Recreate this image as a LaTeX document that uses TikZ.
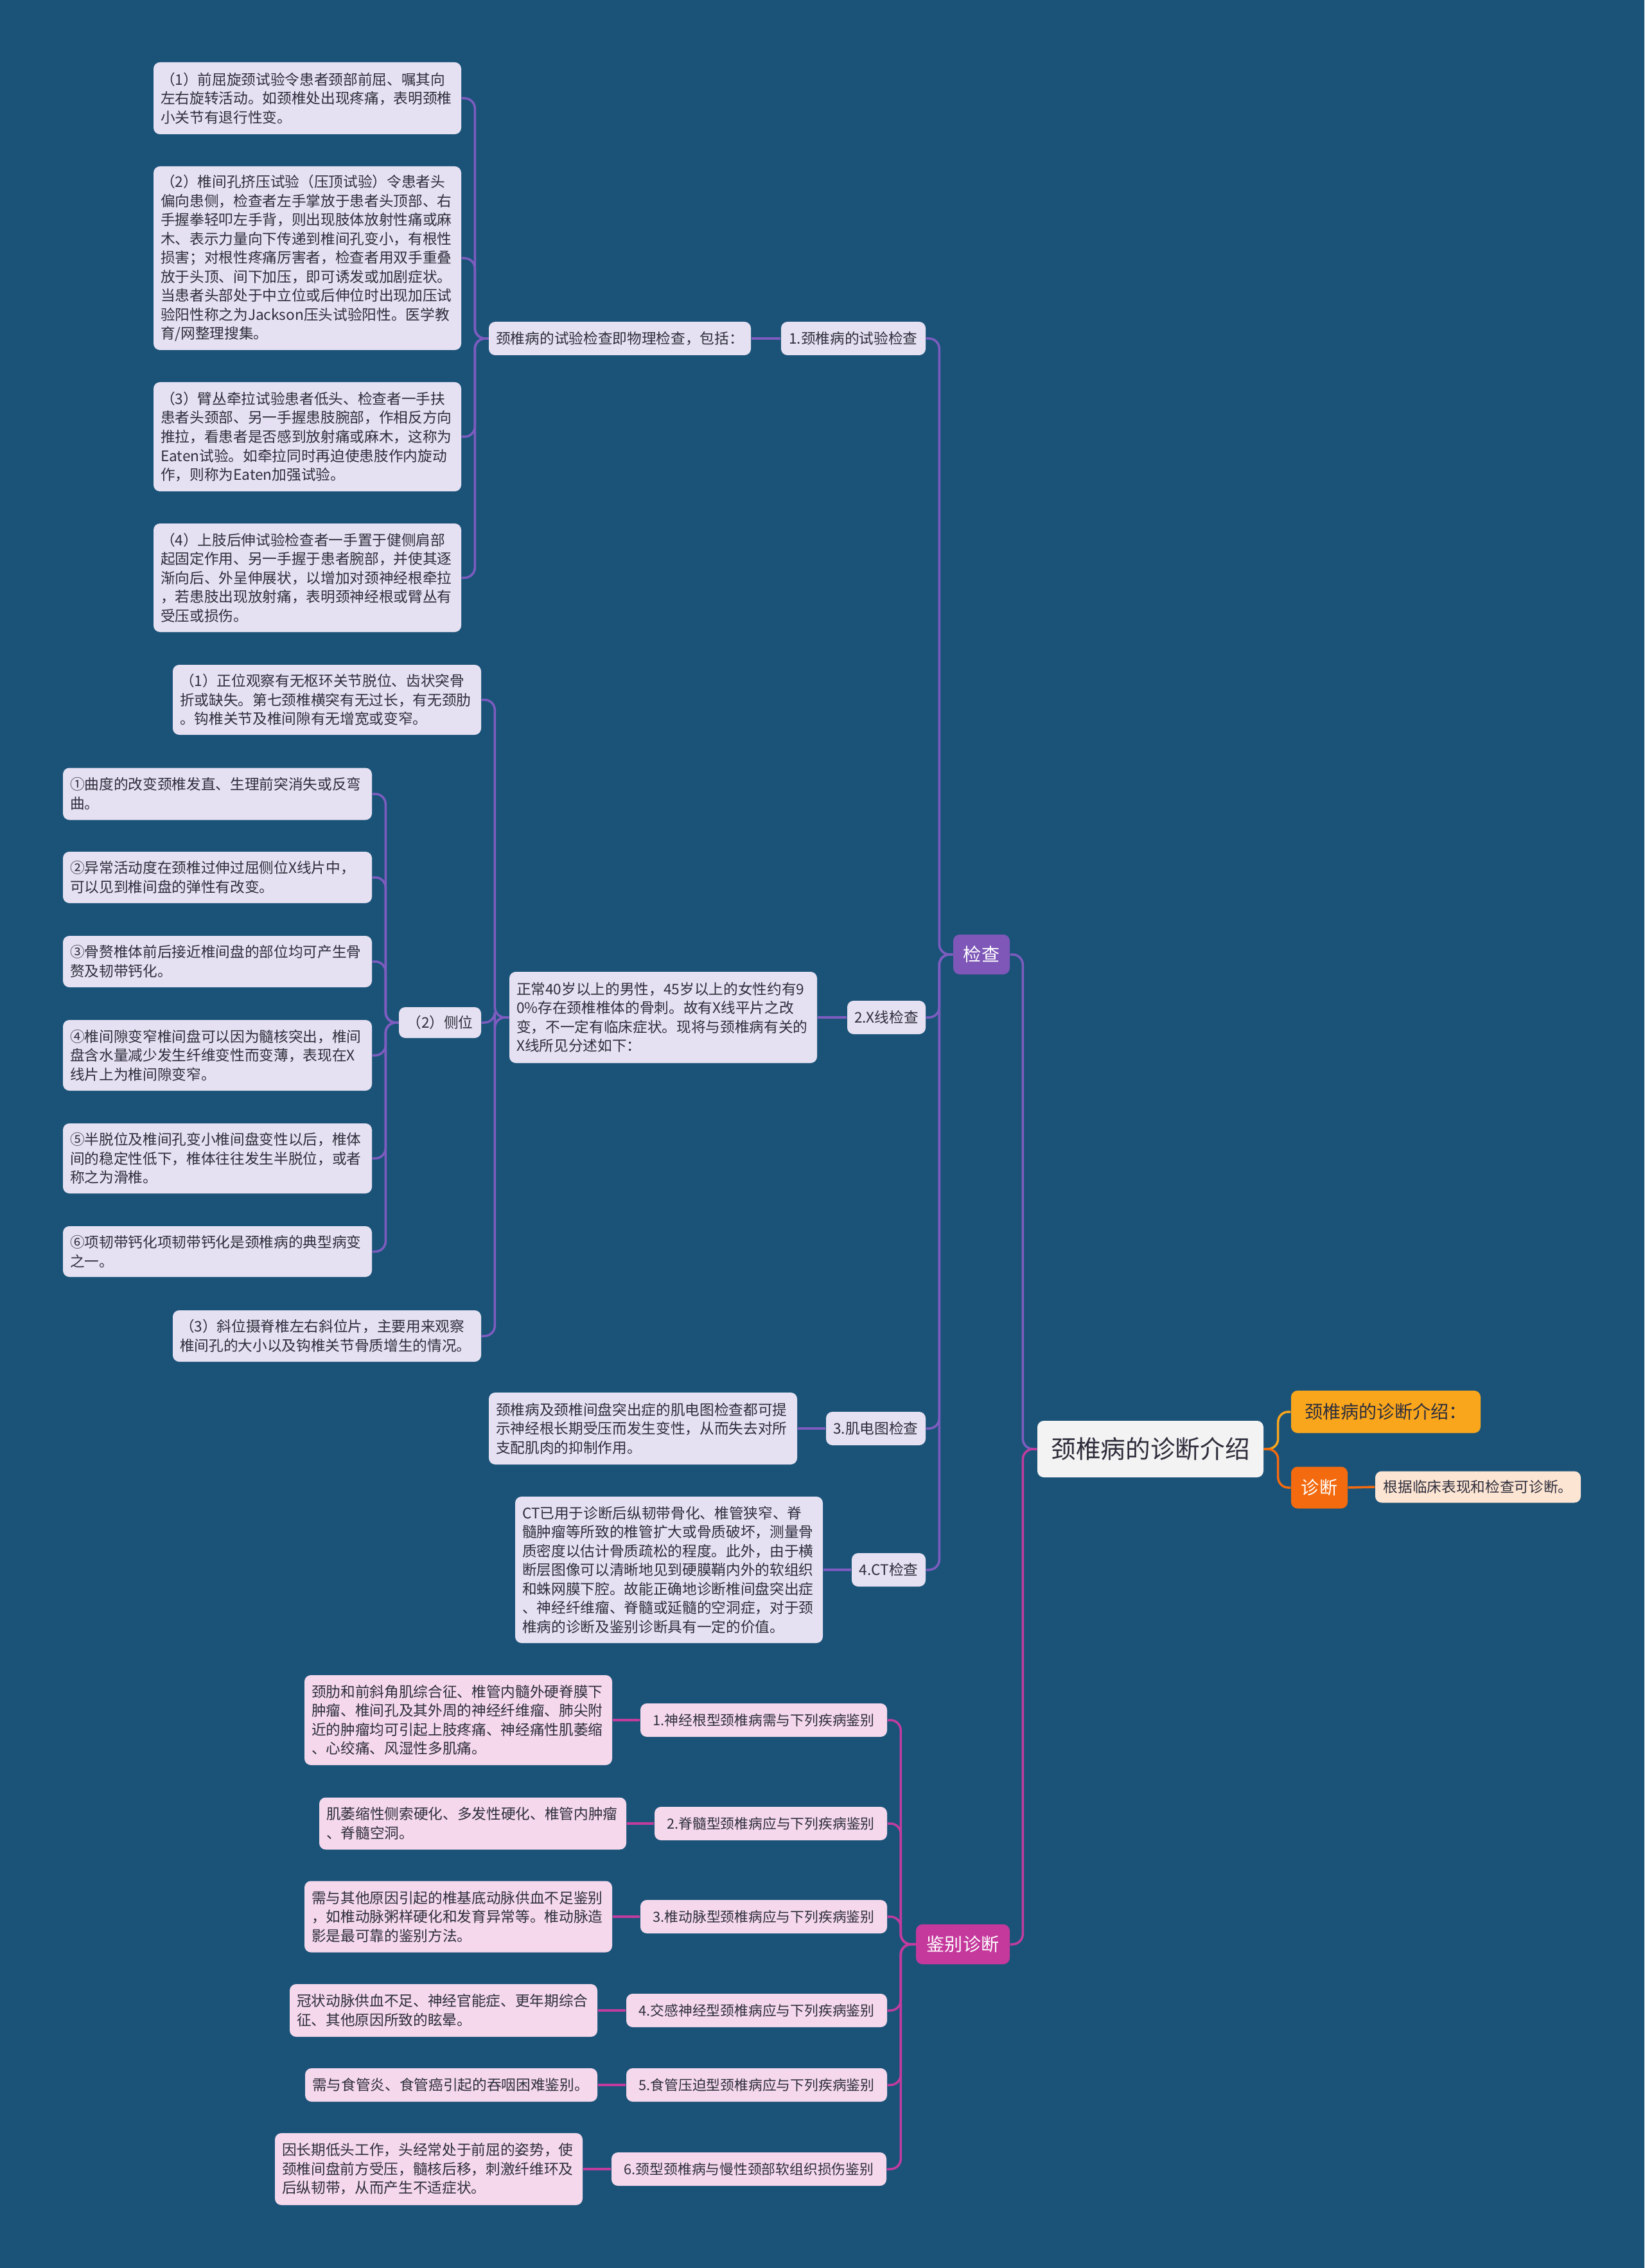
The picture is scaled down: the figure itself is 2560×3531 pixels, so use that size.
\documentclass[tikz,border=0pt]{standalone}
\usepackage{fontspec}
\setmainfont{Noto Sans CJK SC}
\usepackage{tikz}
\definecolor{mapbg}{HTML}{1B5378}
\definecolor{chkpurple}{HTML}{7E57B8}
\definecolor{chkline}{HTML}{7D5CC0}
\definecolor{chkleaf}{HTML}{E6E1F2}
\definecolor{jbmag}{HTML}{C5389C}
\definecolor{jbline}{HTML}{C23C9E}
\definecolor{jbleaf}{HTML}{F5D8EC}
\definecolor{rootfill}{HTML}{F3F3F3}
\definecolor{introorange}{HTML}{F9A61C}
\definecolor{diagorange}{HTML}{F46A0E}
\definecolor{diagleaf}{HTML}{FDE5D3}
\definecolor{inktext}{HTML}{2E2E3C}
\newcommand{\txtS}{\fontsize{6.45pt}{8.4pt}\selectfont}
\newcommand{\txtD}{\fontsize{6.2pt}{8.4pt}\selectfont}
\newcommand{\txtM}{\fontsize{8pt}{10pt}\selectfont}
\newcommand{\txtL}{\fontsize{11pt}{13pt}\selectfont}

\begin{document}
\begin{tikzpicture}[x=0.1mm, y=-0.1mm,
leafk/.style={fill=chkleaf, rounded corners=1mm, text=inktext, font=\txtS,
align=left, inner xsep=1.1mm, inner ysep=0pt},
leafj/.style={leafk, fill=jbleaf},
itemk/.style={fill=chkleaf, rounded corners=1mm, text=inktext, font=\txtS,
align=center, inner sep=0pt, minimum height=5.2mm},
itemj/.style={itemk, fill=jbleaf, font=\txtD},
mainbox/.style={rounded corners=1mm, text=white, font=\txtM, align=center,
inner sep=0pt, minimum height=6.2mm},
lnkk/.style={draw=chkline, line width=0.35mm, rounded corners=1.6mm},
lnkj/.style={draw=jbline, line width=0.35mm, rounded corners=1.6mm},
lnko/.style={draw=introorange, line width=0.35mm, rounded corners=1.6mm},
lnkr/.style={draw=diagorange, line width=0.35mm, rounded corners=1.6mm}
]
\useasboundingbox (0,0) rectangle (2560,3531);
\fill[mapbg] (0,0) rectangle (2560,3531);

\node[leafk, text width=45.7mm, minimum height=11.2mm] (t1) at (478.5,153)
{（1）前屈旋颈试验令患者颈部前屈、嘱其向\\左右旋转活动。如颈椎处出现疼痛，表明颈椎\\小关节有退行性变。};
\node[leafk, text width=45.7mm, minimum height=28.6mm] (t2) at (478.5,402)
{（2）椎间孔挤压试验（压顶试验）令患者头\\偏向患侧，检查者左手掌放于患者头顶部、右\\手握拳轻叩左手背，则出现肢体放射性痛或麻\\木、表示力量向下传递到椎间孔变小，有根性\\损害；对根性疼痛厉害者，检查者用双手重叠\\放于头顶、间下加压，即可诱发或加剧症状。\\当患者头部处于中立位或后伸位时出现加压试\\验阳性称之为Jackson压头试验阳性。医学教\\育/网整理搜集。};
\node[leafk, text width=45.7mm, minimum height=17mm] (t3) at (478.5,680)
{（3）臂丛牵拉试验患者低头、检查者一手扶\\患者头颈部、另一手握患肢腕部，作相反方向\\推拉，看患者是否感到放射痛或麻木，这称为\\Eaten试验。如牵拉同时再迫使患肢作内旋动\\作，则称为Eaten加强试验。};
\node[leafk, text width=45.7mm, minimum height=16.9mm] (t4) at (478.5,899.5)
{（4）上肢后伸试验检查者一手置于健侧肩部\\起固定作用、另一手握于患者腕部，并使其逐\\渐向后、外呈伸展状，以增加对颈神经根牵拉\\，若患肢出现放射痛，表明颈神经根或臂丛有\\受压或损伤。};
\node[itemk, minimum width=40.8mm] (p1) at (965,527) {颈椎病的试验检查即物理检查，包括：};
\node[itemk, minimum width=22.5mm] (e1) at (1328.5,527) {1.颈椎病的试验检查};

\node[leafk, text width=45.8mm, minimum height=10.9mm] (x1) at (509,1089.5)
{（1）正位观察有无枢环关节脱位、齿状突骨\\折或缺失。第七颈椎横突有无过长，有无颈肋\\。钩椎关节及椎间隙有无增宽或变窄。};
\node[leafk, text width=45.9mm, minimum height=8.1mm] (s1) at (338.5,1236)
{①曲度的改变颈椎发直、生理前突消失或反弯\\曲。};
\node[leafk, text width=45.9mm, minimum height=8mm] (s2) at (338.5,1366)
{②异常活动度在颈椎过伸过屈侧位X线片中，\\可以见到椎间盘的弹性有改变。};
\node[leafk, text width=45.9mm, minimum height=8mm] (s3) at (338.5,1497)
{③骨赘椎体前后接近椎间盘的部位均可产生骨\\赘及韧带钙化。};
\node[leafk, text width=45.9mm, minimum height=11mm] (s4) at (338.5,1643)
{④椎间隙变窄椎间盘可以因为髓核突出，椎间\\盘含水量减少发生纤维变性而变薄，表现在X\\线片上为椎间隙变窄。};
\node[leafk, text width=45.9mm, minimum height=10.9mm] (s5) at (338.5,1803.5)
{⑤半脱位及椎间孔变小椎间盘变性以后，椎体\\间的稳定性低下，椎体往往发生半脱位，或者\\称之为滑椎。};
\node[leafk, text width=45.9mm, minimum height=7.9mm] (s6) at (338.5,1948.5)
{⑥项韧带钙化项韧带钙化是颈椎病的典型病变\\之一。};
\node[itemk, minimum width=12.8mm, minimum height=4.8mm] (ce) at (685,1592) {（2）侧位};
\node[leafk, text width=45.8mm, minimum height=8mm] (x3) at (509,2080)
{（3）斜位摄脊椎左右斜位片，主要用来观察\\椎间孔的大小以及钩椎关节骨质增生的情况。};
\node[leafk, text width=45.7mm, minimum height=14.2mm] (xd) at (1032.5,1584)
{正常40岁以上的男性，45岁以上的女性约有9\\0\%存在颈椎椎体的骨刺。故有X线平片之改\\变，不一定有临床症状。现将与颈椎病有关的\\X线所见分述如下：};
\node[itemk, minimum width=12.2mm] (e2) at (1380,1584) {2.X线检查};

\node[leafk, text width=45.8mm, minimum height=11.2mm] (emg) at (1001,2224)
{颈椎病及颈椎间盘突出症的肌电图检查都可提\\示神经根长期受压而发生变性，从而失去对所\\支配肌肉的抑制作用。};
\node[itemk, minimum width=15.5mm] (e3) at (1363.5,2224) {3.肌电图检查};
\node[leafk, text width=45.7mm, minimum height=22.8mm] (ct) at (1041.5,2444)
{CT已用于诊断后纵韧带骨化、椎管狭窄、脊\\髓肿瘤等所致的椎管扩大或骨质破坏，测量骨\\质密度以估计骨质疏松的程度。此外，由于横\\断层图像可以清晰地见到硬膜鞘内外的软组织\\和蛛网膜下腔。故能正确地诊断椎间盘突出症\\、神经纤维瘤、脊髓或延髓的空洞症，对于颈\\椎病的诊断及鉴别诊断具有一定的价值。};
\node[itemk, minimum width=11.5mm] (e4) at (1383.5,2444) {4.CT检查};

\node[mainbox, fill=chkpurple, minimum width=8.8mm] (chk) at (1528,1486) {检查};
\node[mainbox, fill=jbmag, minimum width=14.6mm] (jb) at (1499,3027) {鉴别诊断};

\node[leafj, text width=45.7mm, minimum height=14mm] (dd1) at (713.5,2678)
{颈肋和前斜角肌综合征、椎管内髓外硬脊膜下\\肿瘤、椎间孔及其外周的神经纤维瘤、肺尖附\\近的肿瘤均可引起上肢疼痛、神经痛性肌萎缩\\、心绞痛、风湿性多肌痛。};
\node[itemj, minimum width=38.4mm] (d1) at (1189,2678) {1.神经根型颈椎病需与下列疾病鉴别};
\node[leafj, text width=45.6mm, minimum height=8.1mm] (dd2) at (736,2839)
{肌萎缩性侧索硬化、多发性硬化、椎管内肿瘤\\、脊髓空洞。};
\node[itemj, minimum width=36.2mm] (d2) at (1200,2839) {2.脊髓型颈椎病应与下列疾病鉴别};
\node[leafj, text width=45.7mm, minimum height=11.1mm] (dd3) at (713.5,2984)
{需与其他原因引起的椎基底动脉供血不足鉴别\\，如椎动脉粥样硬化和发育异常等。椎动脉造\\影是最可靠的鉴别方法。};
\node[itemj, minimum width=38.4mm] (d3) at (1189,2984) {3.椎动脉型颈椎病应与下列疾病鉴别};
\node[leafj, text width=45.7mm, minimum height=8.2mm] (dd4) at (690.5,3130)
{冠状动脉供血不足、神经官能症、更年期综合\\征、其他原因所致的眩晕。};
\node[itemj, minimum width=40.6mm] (d4) at (1178,3130) {4.交感神经型颈椎病应与下列疾病鉴别};
\node[leafj, text width=43.3mm, minimum height=5.2mm] (dd5) at (702.5,3246)
{需与食管炎、食管癌引起的吞咽困难鉴别。};
\node[itemj, minimum width=40.6mm] (d5) at (1178,3246) {5.食管压迫型颈椎病应与下列疾病鉴别};
\node[leafj, text width=45.7mm, minimum height=11.2mm] (dd6) at (667.5,3377)
{因长期低头工作，头经常处于前屈的姿势，使\\颈椎间盘前方受压，髓核后移，刺激纤维环及\\后纵韧带，从而产生不适症状。};
\node[itemj, minimum width=42.8mm] (d6) at (1166,3377) {6.颈型颈椎病与慢性颈部软组织损伤鉴别};

\node[rounded corners=1mm, fill=rootfill, text=inktext, font=\txtL, inner sep=0pt,
minimum width=35.2mm, minimum height=8.8mm] (root) at (1791,2256) {颈椎病的诊断介绍};
\node[mainbox, fill=introorange, text=inktext, minimum width=29.5mm, minimum height=6.6mm]
(r1) at (2157.5,2198) {颈椎病的诊断介绍：};
\node[mainbox, fill=diagorange, minimum width=8.8mm, minimum height=6.5mm] (r2) at (2054,2316) {诊断};
\node[itemk, fill=diagleaf, minimum width=32mm, minimum height=4.9mm] (r3) at (2301,2315) {根据临床表现和检查可诊断。};

\draw[lnkk] (p1.west) -- ++(-21,0) |- (t1.east);
\draw[lnkk] (p1.west) -- ++(-21,0) |- (t2.east);
\draw[lnkk] (p1.west) -- ++(-21,0) |- (t3.east);
\draw[lnkk] (p1.west) -- ++(-21,0) |- (t4.east);
\draw[lnkk] (e1.west) -- (p1.east);

\draw[lnkk] (ce.west) -- ++(-20,0) |- (s1.east);
\draw[lnkk] (ce.west) -- ++(-20,0) |- (s2.east);
\draw[lnkk] (ce.west) -- ++(-20,0) |- (s3.east);
\draw[lnkk] (ce.west) -- ++(-20,0) |- (s4.east);
\draw[lnkk] (ce.west) -- ++(-20,0) |- (s5.east);
\draw[lnkk] (ce.west) -- ++(-20,0) |- (s6.east);
\draw[lnkk] (xd.west) -- ++(-22,0) |- (x1.east);
\draw[lnkk] (xd.west) -- ++(-22,0) |- (ce.east);
\draw[lnkk] (xd.west) -- ++(-22,0) |- (x3.east);
\draw[lnkk] (e2.west) -- (xd.east);
\draw[lnkk] (e3.west) -- (emg.east);
\draw[lnkk] (e4.west) -- (ct.east);

\draw[lnkk] (chk.west) -- ++(-21,0) |- (e1.east);
\draw[lnkk] (chk.west) -- ++(-21,0) |- (e2.east);
\draw[lnkk] (chk.west) -- ++(-21,0) |- (e3.east);
\draw[lnkk] (chk.west) -- ++(-21,0) |- (e4.east);

\draw[lnkj] (jb.west) -- ++(-23,0) |- (d1.east);
\draw[lnkj] (jb.west) -- ++(-23,0) |- (d2.east);
\draw[lnkj] (jb.west) -- ++(-23,0) |- (d3.east);
\draw[lnkj] (jb.west) -- ++(-23,0) |- (d4.east);
\draw[lnkj] (jb.west) -- ++(-23,0) |- (d5.east);
\draw[lnkj] (jb.west) -- ++(-23,0) |- (d6.east);
\draw[lnkj] (d1.west) -- (dd1.east);
\draw[lnkj] (d2.west) -- (dd2.east);
\draw[lnkj] (d3.west) -- (dd3.east);
\draw[lnkj] (d4.west) -- (dd4.east);
\draw[lnkj] (d5.west) -- (dd5.east);
\draw[lnkj] (d6.west) -- (dd6.east);

\draw[lnkk] (root.west) -- ++(-22,0) |- (chk.east);
\draw[lnkj] (root.west) -- ++(-22,0) |- (jb.east);
\draw[lnko] (root.east) -- ++(22,0) |- (r1.west);
\draw[lnkr] (root.east) -- ++(22,0) |- (r2.west);
\draw[lnkr] (r2.east) -- (r3.west);

\end{tikzpicture}
\end{document}
